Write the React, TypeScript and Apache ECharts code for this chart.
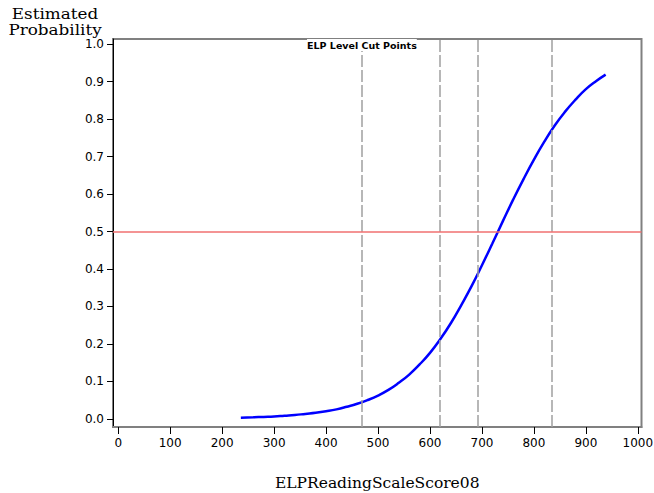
import React, { useEffect, useRef } from "react";
import * as echarts from "echarts";

const scores: number[] = [236, 260, 280, 300, 320, 340, 360, 380, 400, 420, 440, 460, 480, 500, 520, 540, 560, 580, 600, 620, 640, 660, 680, 700, 720, 740, 760, 780, 800, 820, 840, 860, 880, 900, 920, 938];
const probabilities: number[] = [0.003, 0.004, 0.005, 0.006, 0.008, 0.010, 0.013, 0.016, 0.020, 0.025, 0.032, 0.040, 0.050, 0.062, 0.077, 0.096, 0.118, 0.145, 0.176, 0.213, 0.255, 0.303, 0.354, 0.410, 0.468, 0.527, 0.585, 0.640, 0.692, 0.740, 0.783, 0.820, 0.852, 0.880, 0.902, 0.919];
const cutPoints: number[] = [469, 619, 691, 835];
const referenceProbability = 0.5;
const xTicks: number[] = [0, 100, 200, 300, 400, 500, 600, 700, 800, 900, 1000];
const yTicks: number[] = [0, 0.1, 0.2, 0.3, 0.4, 0.5, 0.6, 0.7, 0.8, 0.9, 1.0];

export default function App() {
  const ref = useRef<HTMLDivElement>(null);
  useEffect(() => {
    if (!ref.current) return;
    const chart = echarts.init(ref.current, null, { renderer: "svg" });
    const curve = scores.map((s, i) => [s, probabilities[i]]);
    const dashed = { color: "#a0a0a0", type: [12, 3], width: 1.5 };
    chart.setOption({
      animation: false,
      backgroundColor: "#ffffff",
      grid: {
        left: 113,
        right: 12.5,
        top: 39,
        bottom: 66,
        show: true,
        borderColor: "#808080",
        borderWidth: 2,
        backgroundColor: "transparent",
        containLabel: false,
        outerBoundsMode: "none",
      },
      xAxis: {
        type: "value",
        min: -10,
        max: 1007,
        splitLine: { show: false },
        axisLine: { show: true, onZero: false, lineStyle: { color: "#808080", width: 2 } },
        axisTick: { show: true, length: 7, customValues: xTicks, lineStyle: { color: "#000", width: 1 } },
        axisLabel: {
          customValues: xTicks,
          margin: 10,
          color: "#000",
          fontFamily: "DejaVu Sans",
          fontSize: 12,
          formatter: (v: number) => String(v),
        },
        name: "ELPReadingScaleScore08",
        nameLocation: "middle",
        nameGap: 48,
        nameTextStyle: { fontFamily: "DejaVu Serif", fontSize: 15.5, color: "#000" },
      },
      yAxis: {
        type: "value",
        min: -0.022,
        max: 1.014,
        splitLine: { show: false },
        axisLine: { show: true, onZero: false, lineStyle: { color: "#000", width: 1 } },
        axisTick: { show: true, length: 6, customValues: yTicks, lineStyle: { color: "#000", width: 1 } },
        axisLabel: {
          customValues: yTicks,
          margin: 9,
          color: "#000",
          fontFamily: "DejaVu Sans",
          fontSize: 12,
          formatter: (v: number) => v.toFixed(1),
        },
      },
      graphic: [
        {
          type: "text",
          x: 55,
          y: 6,
          scaleX: 1.12,
          style: {
            text: "Estimated\nProbability",
            fontFamily: "DejaVu Serif",
            fontSize: 15,
            lineHeight: 16,
            fill: "#000",
            align: "center",
            verticalAlign: "top",
          },
        },
      ],
      series: [
        {
          type: "line",
          data: [],
          silent: true,
          z: 1,
          markLine: {
            silent: true,
            symbol: "none",
            animation: false,
            label: { show: false },
            data: [
              ...cutPoints.map((c, i) => ({
                xAxis: c,
                lineStyle: dashed,
                label:
                  i === 0
                    ? {
                        show: true,
                        position: "end",
                        formatter: "ELP Level Cut Points",
                        fontFamily: "DejaVu Sans",
                        fontWeight: "bold",
                        fontSize: 9.5,
                        color: "#000",
                        backgroundColor: "#fff",
                        distance: -12,
                        padding: [1, 0],
                      }
                    : { show: false },
              })),
              {
                yAxis: referenceProbability,
                lineStyle: { color: "#f07070", type: "solid", width: 1.5 },
              },
            ],
          },
        },
        {
          type: "line",
          data: curve,
          showSymbol: false,
          smooth: true,
          z: 3,
          lineStyle: { color: "#0000ff", width: 2.5 },
        },
      ],
    });
    return () => chart.dispose();
  }, []);
  return (
    <div
      ref={ref}
      style={{ position: "absolute", left: 0, top: 0, width: 654, height: 493 }}
    />
  );
}
